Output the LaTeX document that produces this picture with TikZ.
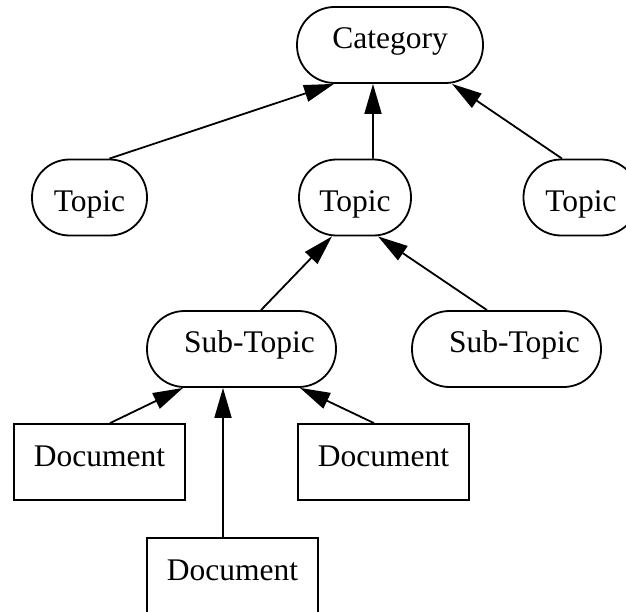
\documentclass[tikz,border=0pt]{standalone}
\usepackage{fontspec}
\setmainfont{Liberation Serif}
\usetikzlibrary{arrows.meta}

\begin{document}
\begin{tikzpicture}[x=1bp,y=-1bp,
    every node/.style={draw,line width=1.8bp,inner sep=0pt,minimum height=76bp,
      font=\fontsize{31.5bp}{36bp}\selectfont,text height=16bp,text depth=9bp},
    pill/.style={rounded corners=37.5bp},
    topicbox/.style={pill,minimum width=115bp,text height=27bp,text depth=0bp},
    subbox/.style={pill,minimum width=189bp,execute at begin node={\hspace*{16bp}}},
    docbox/.style={minimum width=171bp,text depth=8bp},
    isa/.style={-{Triangle[length=30bp,width=17bp]},line width=1.8bp}]
    \useasboundingbox (0,0) rectangle (626,612);
    \clip (0,0) rectangle (626,612); % Clips the picture...

    \node[pill,minimum width=186bp] (cat) at (390,45) {Category};
    \node[topicbox] (topicA) at (89.5,197.5) {Topic};
    \node[topicbox,minimum width=112bp] (topicB) at (355,197.5) {Topic};
    \node[topicbox] (topicC) at (581,197.5) {Topic};
    \node[subbox] (subA) at (241.5,349) {Sub-Topic};
    \node[subbox] (subB) at (506.5,349) {Sub-Topic};
    \node[docbox] (docA) at (99.5,462) {Document};
    \node[docbox] (docB) at (383.5,462) {Document};
    \node[docbox] (docC) at (232.5,576) {Document};

    \draw[isa] ([xshift=20bp]topicA.north) -- ([xshift=-56bp]cat.south);
    \draw[isa] ([xshift=18bp]topicB.north) -- ([xshift=-17bp]cat.south);
    \draw[isa] ([xshift=-19bp]topicC.north) -- ([xshift=62bp]cat.south);
    \draw[isa] ([xshift=19.5bp]subA.north) -- ([xshift=-23bp]topicB.south);
    \draw[isa] ([xshift=-19.5bp]subB.north) -- ([xshift=23bp]topicB.south);
    \draw[isa] ([xshift=10.5bp]docA.north) -- ([xshift=-58.5bp]subA.south);
    \draw[isa] ([xshift=-9.5bp]docC.north) -- ([xshift=-18.5bp]subA.south);
    \draw[isa] ([xshift=-9.5bp]docB.north) -- ([xshift=58.5bp]subA.south);
  \end{tikzpicture}
\end{document}
